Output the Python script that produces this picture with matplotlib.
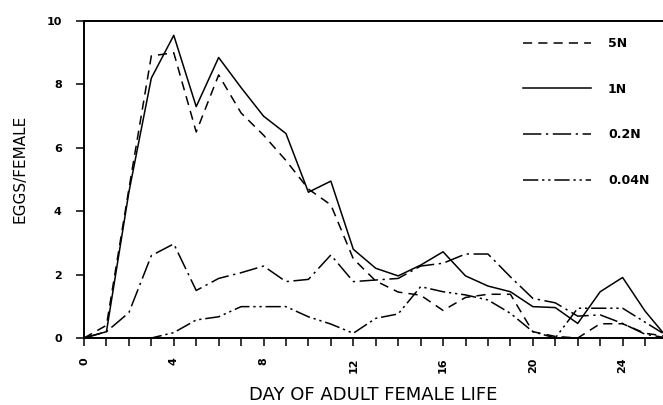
import matplotlib
matplotlib.use("Agg")
import matplotlib.pyplot as plt
import numpy as np

days = np.arange(0, 27)

# eggs per female per day
eggs_5n = [0, 0.4, 4.7, 8.9, 9.0, 6.5, 8.3, 7.1, 6.4, 5.6, 4.7, 4.2, 2.5,
           1.8, 1.45, 1.35, 0.87, 1.28, 1.38, 1.38, 0.2, 0.05, 0.0, 0.45, 0.45, 0.15, 0.05]
eggs_1n = [0, 0.2, 4.6, 8.2, 9.55, 7.3, 8.85, 7.9, 7.0, 6.45, 4.6, 4.95, 2.8,
           2.2, 1.96, 2.3, 2.72, 1.96, 1.64, 1.46, 0.99, 0.96, 0.46, 1.46, 1.91, 0.85, 0.0]
eggs_02n = [0, 0.2, 0.8, 2.6, 2.97, 1.5, 1.88, 2.06, 2.27, 1.78, 1.85, 2.62, 1.78,
            1.83, 1.88, 2.27, 2.36, 2.65, 2.65, 1.93, 1.25, 1.11, 0.69, 0.73, 0.46, 0.12, 0.0]
eggs_004n = [0, 0, 0, 0, 0.17, 0.57, 0.67, 0.99, 0.99, 0.99, 0.67, 0.44, 0.15,
             0.62, 0.76, 1.62, 1.46, 1.36, 1.2, 0.78, 0.2, 0.0, 0.94, 0.94, 0.94, 0.5, 0.06]

series = [
    ("5N", eggs_5n, (0, (6, 4))),
    ("1N", eggs_1n, "-"),
    ("0.2N", eggs_02n, (0, (12, 3, 1.5, 3))),
    ("0.04N", eggs_004n, (0, (10, 2.5, 1.5, 2.5, 1.5, 2.5))),
]

fig = plt.figure(figsize=(6.63, 4.05), dpi=100)
ax = fig.add_axes([0.1267, 0.1654, 0.8733, 0.7826])

for label, vals, ls in series:
    ax.plot(days, vals, color="black", linestyle=ls, linewidth=1.1, label=label)

ax.set_xlim(0, 25.8)
ax.set_ylim(0, 10)
ax.set_xticks(np.arange(0, 25, 4))
ax.set_xticks(np.arange(0, 26, 1), minor=True)
ax.set_yticks(np.arange(0, 11, 2))
ax.set_xticklabels([str(d) for d in range(0, 25, 4)], rotation=90, fontsize=8, fontweight="bold")
ax.set_yticklabels([str(v) for v in range(0, 11, 2)], fontsize=8, fontweight="bold")
ax.tick_params(axis="both", which="both", direction="out", length=6, width=1.1)
ax.tick_params(axis="x", which="major", pad=8)
ax.tick_params(axis="y", pad=10)
ax.spines["right"].set_visible(False)
for s in ["left", "bottom", "top"]:
    ax.spines[s].set_linewidth(1.4)

ax.set_xlabel("DAY OF ADULT FEMALE LIFE", fontsize=13, labelpad=9)
ax.set_ylabel("EGGS/FEMALE", fontsize=11)
ax.yaxis.set_label_coords(-0.098, 0.535)

ax.legend(loc="upper left", bbox_to_anchor=(523 / 663, 1 - 37 / 405), bbox_transform=fig.transFigure,
          frameon=False, prop={"weight": "bold", "size": 9}, handlelength=5.4,
          handletextpad=1.4, labelspacing=2.62, borderpad=0, borderaxespad=0)

fig.savefig("out.png", dpi=100)
